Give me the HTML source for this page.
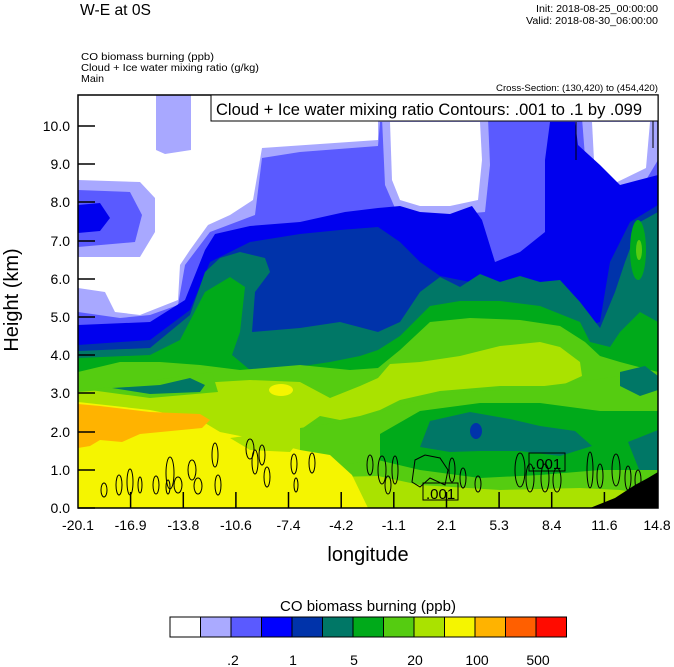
<!DOCTYPE html>
<html><head><meta charset="utf-8"><style>
html,body{margin:0;padding:0;background:#fff;}
svg{display:block;font-family:"Liberation Sans",Arial,sans-serif;}
</style></head><body>
<svg width="674" height="667" viewBox="0 0 674 667" xmlns="http://www.w3.org/2000/svg">
<text x="80" y="15" font-size="16" textLength="71" lengthAdjust="spacingAndGlyphs">W-E at 0S</text>
<text x="658" y="12" font-size="10" text-anchor="end" textLength="122" lengthAdjust="spacingAndGlyphs">Init: 2018-08-25_00:00:00</text>
<text x="658" y="24" font-size="10" text-anchor="end" textLength="132" lengthAdjust="spacingAndGlyphs">Valid: 2018-08-30_06:00:00</text>
<text x="81" y="60" font-size="10.5" textLength="133" lengthAdjust="spacingAndGlyphs">CO biomass burning   (ppb)</text>
<text x="81" y="71" font-size="10.5" textLength="178" lengthAdjust="spacingAndGlyphs">Cloud + Ice water mixing ratio   (g/kg)</text>
<text x="81" y="82" font-size="10.5" textLength="23" lengthAdjust="spacingAndGlyphs">Main</text>
<text x="658" y="91" font-size="9" text-anchor="end" textLength="162" lengthAdjust="spacingAndGlyphs">Cross-Section: (130,420) to (454,420)</text>
<defs><clipPath id="c"><rect x="78" y="95" width="580" height="413"/></clipPath></defs>
<g clip-path="url(#c)">
<rect x="78" y="95" width="580" height="413" fill="#a8a8ff"/>
<path fill="#5a5aff" d="M78,190 L130,192 L142,215 L135,242 L78,247Z"/>
<path fill="#5a5aff" d="M78,312 L120,318 L150,315 L178,305 L185,265 L210,232 L255,215 L262,158 L300,152 L378,146 L380,122 L470,122 L470,95 L658,95 L658,508 L78,508Z"/>
<path fill="#a8a8ff" d="M382,118 L488,118 L490,165 L485,212 L450,215 L415,214 L395,208 L385,185Z"/>
<path fill="#a8a8ff" d="M582,118 L658,118 L658,160 L640,190 L600,200 L586,170Z"/>
<path fill="#fff" d="M78,95 L156,95 L156,150 L165,154 L191,150 L191,95 L378,95 L378,140 L262,148 L253,200 L230,215 L208,225 L190,250 L180,265 L178,300 L140,315 L115,312 L105,292 L78,288 L78,257 L140,257 L155,232 L155,198 L140,182 L78,180Z"/>
<path fill="#fff" d="M390,122 L480,122 L482,160 L478,200 L450,206 L420,206 L400,200 L392,180Z"/>
<path fill="#fff" d="M592,122 L650,122 L646,168 L605,188 L594,160Z"/>
<path fill="#0000ee" d="M78,205 L100,203 L110,218 L100,231 L78,233Z"/>
<path fill="#0000ee" d="M78,325 L150,322 L185,300 L205,250 L215,234 L250,226 L300,222 L345,212 L378,208 L400,206 L420,212 L450,214 L472,206 L482,220 L495,262 L520,252 L545,232 L545,160 L550,122 L575,122 L578,145 L600,165 L620,185 L658,175 L658,508 L78,508Z"/>
<path fill="#0033aa" d="M78,345 L150,340 L190,310 L210,262 L230,252 L250,242 L300,234 L340,230 L378,227 L400,242 L420,262 L440,276 L470,282 L520,290 L545,300 L580,328 L600,322 L610,262 L630,222 L658,205 L658,508 L78,508Z"/>
<path fill="#007766" d="M78,351 L150,348 L190,315 L205,272 L220,258 L240,252 L265,258 L270,272 L255,292 L252,332 L300,328 L340,322 L378,332 L400,322 L420,292 L440,277 L460,287 L480,274 L500,282 L520,276 L540,282 L560,280 L580,302 L600,328 L615,292 L625,262 L640,222 L658,212 L658,508 L78,508Z"/>
<path fill="#00aa1a" d="M78,358 L150,355 L180,340 L205,292 L230,277 L245,287 L240,332 L232,355 L250,370 L290,368 L330,362 L360,356 L378,350 L400,336 L430,306 L460,301 L500,301 L540,306 L580,322 L590,342 L610,347 L620,332 L640,312 L658,322 L658,508 L78,508Z"/>
<ellipse cx="638" cy="250" rx="8" ry="30" fill="#00aa1a"/>
<ellipse cx="639" cy="250" rx="3" ry="10" fill="#55cc11"/>
<path fill="#55cc11" d="M78,372 L120,362 L160,362 L200,365 L240,370 L300,365 L350,370 L378,368 L400,350 L430,322 L470,318 L520,320 L560,326 L585,342 L600,356 L620,362 L658,372 L658,508 L78,508Z"/>
<path fill="#aae200" d="M78,392 L150,386 L250,380 L300,382 L330,398 L360,386 L378,378 L390,364 L420,362 L460,356 L500,346 L540,342 L560,347 L580,362 L582,376 L560,386 L500,386 L440,391 L400,400 L380,410 L360,416 L340,420 L320,416 L300,430 L300,508 L78,508Z"/>
<path fill="#55cc11" d="M90,390 L170,378 L212,372 L218,392 L150,398Z"/>
<path fill="#007766" d="M112,388 L160,385 L190,378 L205,385 L200,392 L150,394Z"/>
<ellipse cx="281" cy="390" rx="12" ry="6" fill="#f5f500"/>
<path fill="#55cc11" d="M300,428 L340,422 L380,412 L440,393 L520,389 L585,381 L620,376 L658,380 L658,508 L300,508Z"/>
<path fill="#00aa1a" d="M380,434 L420,411 L480,403 L540,403 L600,411 L658,411 L658,508 L380,508Z"/>
<path fill="#007766" d="M420,447 L430,421 L470,412 L510,419 L540,426 L575,431 L592,446 L560,456 L520,451 L480,451 L450,452Z"/>
<path fill="#007766" d="M620,372 L645,366 L658,376 L658,390 L640,396 L620,386Z M628,442 L658,430 L658,472 L640,472Z"/>
<ellipse cx="476" cy="431" rx="6" ry="8" fill="#0033aa"/>
<path fill="#55cc11" d="M300,470 L378,460 L420,470 L480,478 L540,475 L600,470 L658,470 L658,508 L300,508Z"/>
<path fill="#aae200" d="M290,478 L378,476 L420,485 L500,490 L580,488 L620,490 L658,496 L658,508 L290,508Z"/>
<path fill="#f5f500" d="M78,402 L150,410 L200,420 L220,432 L260,440 L300,450 L330,455 L352,475 L368,508 L78,508Z"/>
<path fill="#aae200" d="M230,438 L260,434 L300,440 L290,452 L250,450Z"/>
<path fill="#ffb300" d="M78,404 L100,406 L150,412 L200,414 L210,420 L202,428 L140,434 L122,442 L100,440 L90,446 L78,448Z"/>
<path fill="#000" d="M590,508 L615,498 L635,485 L648,478 L658,472 L658,508Z"/>
<g fill="none" stroke="#000" stroke-width="1">
<ellipse cx="104" cy="490" rx="3" ry="7"/><ellipse cx="119" cy="485" rx="3" ry="10"/><ellipse cx="130" cy="482" rx="3" ry="13"/>
<ellipse cx="140" cy="485" rx="2" ry="8"/><ellipse cx="156" cy="485" rx="3" ry="9"/><ellipse cx="168" cy="487" rx="2" ry="7"/>
<ellipse cx="170" cy="473" rx="4" ry="16"/><ellipse cx="178" cy="485" rx="4" ry="8"/><ellipse cx="192" cy="470" rx="4" ry="10"/>
<ellipse cx="198" cy="486" rx="4" ry="8"/><ellipse cx="215" cy="455" rx="3" ry="12"/><ellipse cx="218" cy="485" rx="3" ry="10"/>
<ellipse cx="250" cy="449" rx="4" ry="10"/><ellipse cx="255" cy="462" rx="3" ry="12"/><ellipse cx="262" cy="455" rx="3" ry="10"/>
<ellipse cx="267" cy="477" rx="3" ry="10"/><ellipse cx="294" cy="464" rx="3" ry="10"/><ellipse cx="312" cy="463" rx="3" ry="10"/>
<ellipse cx="296" cy="485" rx="2" ry="7"/><ellipse cx="370" cy="465" rx="3" ry="10"/><ellipse cx="382" cy="470" rx="4" ry="14"/>
<ellipse cx="388" cy="485" rx="3" ry="9"/><ellipse cx="395" cy="470" rx="3" ry="14"/>
<path d="M412,482 L415,460 L425,455 L440,458 L448,470 L445,485 L430,478 L420,487Z"/>
<ellipse cx="452" cy="470" rx="3" ry="12"/><ellipse cx="463" cy="478" rx="3" ry="10"/><ellipse cx="478" cy="484" rx="3" ry="8"/>
<ellipse cx="520" cy="470" rx="5" ry="17"/><ellipse cx="530" cy="478" rx="4" ry="14"/><ellipse cx="545" cy="478" rx="4" ry="14"/>
<ellipse cx="557" cy="480" rx="4" ry="12"/><ellipse cx="590" cy="470" rx="3" ry="18"/><ellipse cx="600" cy="476" rx="3" ry="12"/>
<ellipse cx="616" cy="470" rx="4" ry="16"/><ellipse cx="628" cy="478" rx="3" ry="12"/><ellipse cx="638" cy="480" rx="3" ry="10"/>
<line x1="576" y1="122" x2="576" y2="160"/><line x1="653" y1="118" x2="653" y2="148"/>
</g>
<rect x="423" y="483" width="35" height="17" fill="none" stroke="#000"/>
<text x="426" y="499" font-size="15">.001</text>
<rect x="529" y="453" width="36" height="18" fill="none" stroke="#000"/>
<text x="532" y="469" font-size="15">.001</text>
</g>
<rect x="78" y="95" width="580" height="413" fill="none" stroke="#000" stroke-width="1.5"/>
<rect x="211" y="95" width="447" height="26" fill="#fff" stroke="#000"/>
<text x="216" y="115" font-size="16.5">Cloud + Ice water mixing ratio Contours: .001 to .1 by .099</text>
<g stroke="#000" stroke-width="1.5">
<line x1="78" y1="508" x2="95" y2="508"/><line x1="78" y1="470" x2="95" y2="470"/><line x1="78" y1="432" x2="95" y2="432"/><line x1="78" y1="393" x2="95" y2="393"/><line x1="78" y1="355" x2="95" y2="355"/><line x1="78" y1="317" x2="95" y2="317"/><line x1="78" y1="279" x2="95" y2="279"/><line x1="78" y1="241" x2="95" y2="241"/><line x1="78" y1="202" x2="95" y2="202"/><line x1="78" y1="164" x2="95" y2="164"/><line x1="78" y1="126" x2="95" y2="126"/>
<line x1="130.6" y1="508" x2="130.6" y2="492"/><line x1="183.3" y1="508" x2="183.3" y2="492"/><line x1="235.9" y1="508" x2="235.9" y2="492"/><line x1="288.5" y1="508" x2="288.5" y2="492"/><line x1="341.2" y1="508" x2="341.2" y2="492"/><line x1="393.8" y1="508" x2="393.8" y2="492"/><line x1="446.5" y1="508" x2="446.5" y2="492"/><line x1="499.1" y1="508" x2="499.1" y2="492"/><line x1="551.7" y1="508" x2="551.7" y2="492"/><line x1="604.4" y1="508" x2="604.4" y2="492"/>
</g>
<g font-size="14" text-anchor="end">
<text x="70" y="513">0.0</text><text x="70" y="475">1.0</text><text x="70" y="437">2.0</text><text x="70" y="398">3.0</text><text x="70" y="360">4.0</text><text x="70" y="322">5.0</text><text x="70" y="284">6.0</text><text x="70" y="246">7.0</text><text x="70" y="207">8.0</text><text x="70" y="169">9.0</text><text x="70" y="131">10.0</text>
</g>
<g font-size="14" text-anchor="middle">
<text x="78" y="530">-20.1</text><text x="130.6" y="530">-16.9</text><text x="183.3" y="530">-13.8</text><text x="235.9" y="530">-10.6</text><text x="288.5" y="530">-7.4</text><text x="341.2" y="530">-4.2</text><text x="393.8" y="530">-1.1</text><text x="446.5" y="530">2.1</text><text x="499.1" y="530">5.3</text><text x="551.7" y="530">8.4</text><text x="604.4" y="530">11.6</text><text x="657" y="530">14.8</text>
</g>
<text x="368" y="561" font-size="20" text-anchor="middle">longitude</text>
<text transform="translate(18,300) rotate(-90)" font-size="20" text-anchor="middle">Height (km)</text>
<text x="368" y="611" font-size="15" text-anchor="middle">CO biomass burning  (ppb)</text>
<g stroke="#000" stroke-width="1">
<rect x="170" y="617" width="30.5" height="20" fill="#fff"/>
<rect x="200.5" y="617" width="30.5" height="20" fill="#aaaaff"/>
<rect x="231" y="617" width="30.5" height="20" fill="#5a5aff"/>
<rect x="261.5" y="617" width="30.5" height="20" fill="#0000ff"/>
<rect x="292" y="617" width="30.5" height="20" fill="#0033aa"/>
<rect x="322.5" y="617" width="30.5" height="20" fill="#007766"/>
<rect x="353" y="617" width="30.5" height="20" fill="#00aa1a"/>
<rect x="383.5" y="617" width="30.5" height="20" fill="#55cc11"/>
<rect x="414" y="617" width="30.5" height="20" fill="#aae200"/>
<rect x="444.5" y="617" width="30.5" height="20" fill="#f5f500"/>
<rect x="475" y="617" width="30.5" height="20" fill="#ffb300"/>
<rect x="505.5" y="617" width="30.5" height="20" fill="#ff5f00"/>
<rect x="536" y="617" width="30.5" height="20" fill="#ff0b00"/>
</g>
<g font-size="14" text-anchor="middle">
<text x="233" y="665">.2</text><text x="293" y="665">1</text><text x="354" y="665">5</text><text x="415" y="665">20</text><text x="477" y="665">100</text><text x="538" y="665">500</text>
</g>
</svg>
</body></html>
